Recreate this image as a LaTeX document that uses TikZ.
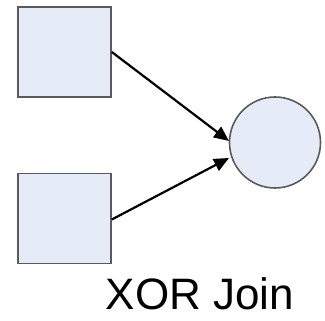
\documentclass[tikz,border=0pt]{standalone}
\usepackage{fontspec}
\setmainfont{Liberation Sans}
\usetikzlibrary{arrows.meta}
\definecolor{boxfill}{RGB}{230,236,247}
\definecolor{boxline}{RGB}{90,90,90}
\begin{document}
\begin{tikzpicture}[x=1pt,y=-1pt,
  task/.style={draw=boxline,fill=boxfill,line width=1.6pt,minimum width=93pt,minimum height=90pt,inner sep=0pt},
  gate/.style={circle,draw=boxline,fill=boxfill,line width=1.6pt,minimum size=91pt,inner sep=0pt},
  flow/.style={line width=2.2pt,-{Triangle[length=15pt,width=13pt]}}]
\useasboundingbox (0,0) rectangle (325,321);
\node[task] (a) at (64.5,52) {};
\node[task] (b) at (64.5,218.5) {};
\node[gate] (c) at (275,142.5) {};
\coordinate (ca) at (229,141);
\coordinate (cb) at (229,158);
\draw[flow] (a.east) -- (ca);
\draw[flow] ([yshift=-1pt]b.east) -- (cb);
\node[font=\fontsize{44}{48}\selectfont,anchor=base,inner sep=0pt,text depth=0pt] (t) at (200,310) {XOR Join};
\end{tikzpicture}
\end{document}
